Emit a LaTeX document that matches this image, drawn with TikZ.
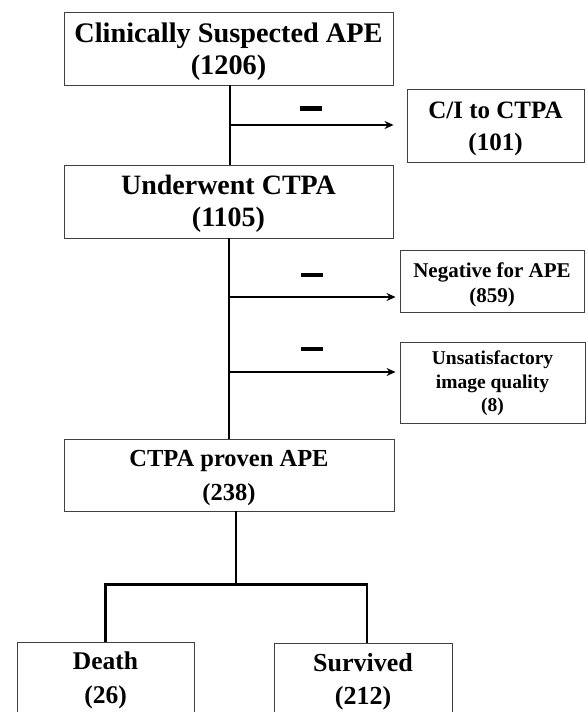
\documentclass[tikz,border=0pt]{standalone}
\usepackage{fontspec}
\setmainfont{Liberation Serif}
\usetikzlibrary{arrows.meta}
\begin{document}
\begin{tikzpicture}[x=1pt,y=-1pt,
  box/.style={draw=black!75,line width=0.9pt,fill=white,inner sep=0pt},
  txt/.style={align=center,inner sep=0pt,font=\bfseries\fontsize{#1}{#1}\selectfont},
  trunk/.style={line width=2.4pt,black},
  arr/.style={line width=1.6pt,black,-{Stealth[length=9pt,width=8pt]}},
  bar/.style={fill=black,inner sep=0pt,minimum width=22pt,minimum height=4.5pt}]
\useasboundingbox (0,0) rectangle (587,712);
\clip (0,0) rectangle (587,712);
\node[box,minimum width=329pt,minimum height=73pt,
  label={[txt=28.3,yshift=-3.5pt]center:{Clinically Suspected APE\\[4pt](1206)}}] (b1) at (228.5,48.5) {};
\node[box,minimum width=329pt,minimum height=73pt,
  label={[txt=28,yshift=-2pt]center:{Underwent CTPA\\[4pt](1105)}}] (b2) at (228.5,201.5) {};
\node[box,minimum width=330pt,minimum height=72pt,
  label={[txt=24.5,yshift=-3pt]center:{CTPA proven APE\\[9pt](238)}}] (b3) at (229,475) {};
\node[box,minimum width=177pt,minimum height=73pt,
  label={[txt=25,yshift=-3pt]center:{C/I to CTPA\\[7pt](101)}}] (ci) at (495.5,125.5) {};
\node[box,minimum width=184pt,minimum height=62pt,
  label={[txt=21,yshift=-4pt]center:{Negative for APE\\[4pt](859)}}] (neg) at (492,281) {};
\node[box,minimum width=185pt,minimum height=81pt,
  label={[txt=19.5,yshift=-1pt]center:{Unsatisfactory\\[4pt]image quality\\[4pt](8)}}] (uns) at (492.5,382.5) {};
\node[box,minimum width=177pt,minimum height=83pt,
  label={[txt=25.5,yshift=3pt]center:{Death\\[8pt](26)}}] (death) at (105.5,683.5) {};
\node[box,minimum width=178pt,minimum height=82pt,
  label={[txt=26,yshift=2.5pt]center:{Survived\\[7pt](212)}}] (surv) at (363,684) {};
% dashes
\node[bar] (m1) at (311,108.5) {};
\node[bar] (m2) at (312,275) {};
\node[bar] (m3) at (312,349) {};
% trunks
\draw[trunk] ([xshift=1.5pt]b1.south) -- ([xshift=1.5pt]b2.north);
\draw[trunk] ([xshift=0.5pt]b2.south) -- ([xshift=0.5pt]b2.south |- b3.north);
\coordinate (j1) at (230,125);
\coordinate (j2) at (229,297);
\coordinate (j3) at (229,372);
\draw[arr] (j1) -- ([xshift=-13pt]j1 -| ci.west);
\draw[arr] (j2) -- ([xshift=-4pt]j2 -| neg.west);
\draw[arr] (j3) -- ([xshift=-4pt]j3 -| uns.west);
\draw[trunk] ([xshift=7pt]b3.south) -- ++(0,73) coordinate (split);
\draw[trunk] (death.north) |- (split) -| ([xshift=4pt]surv.north);
\end{tikzpicture}
\end{document}
